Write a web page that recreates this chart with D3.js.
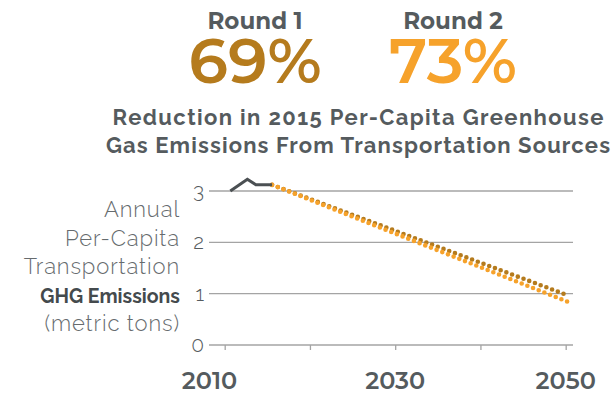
<!DOCTYPE html>
<html>
<head>
<meta charset="utf-8">
<script src="https://cdn.jsdelivr.net/npm/d3@7"></script>
<style>
  html, body { margin: 0; padding: 0; background: #fff; }
  svg { display: block; }
</style>
</head>
<body>
<svg id="chart" width="611" height="395"></svg>
<script>
// Observed per-capita transportation GHG emissions (metric tons)
const histYears = [2010.6, 2012.6, 2013.6, 2015.5];
const histValues = [3.0, 3.23, 3.12, 3.12];

// Reduction targets by round, applied to the 2015 level
const rounds = ["Round 1", "Round 2"];
const reductions = [0.69, 0.73];
const roundColors = ["#b57b1d", "#f6a22b"];
const projStartYear = 2015.5;
const projEndYear = 2050.2;

const yTicks = [0, 1, 2, 3];
const xTicks = [2010, 2020, 2030, 2040, 2050];
const xLabels = [2010, 2030, 2050];
const titleLines = ["Reduction in 2015 Per-Capita Greenhouse", "Gas Emissions From Transportation Sources"];
const titleWidths = [491, 504];
const yLabelLines = ["Annual", "Per-Capita", "Transportation", "GHG Emissions", "(metric tons)"];

const svg = d3.select("#chart");
const grey = "#555b5e";
const lightFont = "Raleway, Lato, 'Open Sans', sans-serif";
const headFont = "Montserrat, 'Open Sans', Lato, sans-serif";

const x = d3.scaleLinear().domain([2008.1, 2050.8]).range([209, 573]);
const y = d3.scaleLinear().domain([0, 3]).range([345, 191]);

// Headline: round names with their reduction percentages
const heads = svg.append("g").selectAll("g")
  .data(rounds.map((r, i) => ({ name: r, pct: reductions[i], color: roundColors[i] })))
  .join("g")
  .attr("transform", (d, i) => `translate(${[255, 453][i]},0)`);
heads.append("text")
  .attr("y", 29).attr("text-anchor", "middle")
  .attr("font-family", headFont).attr("font-weight", 700).attr("font-size", 23)
  .attr("fill", grey).text(d => d.name);
heads.append("text")
  .attr("y", 83).attr("text-anchor", "middle")
  .attr("font-family", headFont).attr("font-weight", 600).attr("font-size", 63)
  .attr("fill", d => d.color).text(d => d3.format(".0%")(d.pct));

// Chart title, spread to its set width
svg.append("g").selectAll("text").data(titleLines).join("text")
  .attr("x", 358).attr("y", (d, i) => 125 + i * 28)
  .attr("text-anchor", "middle")
  .attr("font-family", lightFont).attr("font-weight", 700).attr("font-size", 22)
  .attr("textLength", (d, i) => titleWidths[i]).attr("lengthAdjust", "spacing")
  .attr("fill", grey).text(d => d);

// Horizontal gridlines
svg.append("g").selectAll("line").data(yTicks).join("line")
  .attr("x1", x.range()[0]).attr("x2", x.range()[1])
  .attr("y1", d => y(d)).attr("y2", d => y(d))
  .attr("stroke", "#a4a4a4").attr("stroke-width", 1.3);

// Y tick labels
svg.append("g").selectAll("text").data(yTicks).join("text")
  .attr("x", 204).attr("y", d => y(d) + 7)
  .attr("text-anchor", "end")
  .attr("font-family", lightFont).attr("font-weight", 300).attr("font-size", 21)
  .attr("fill", grey).text(d => d);

// X ticks hang below the baseline
svg.append("g").selectAll("line").data(xTicks).join("line")
  .attr("x1", d => x(d)).attr("x2", d => x(d))
  .attr("y1", y(0)).attr("y2", y(0) + 5)
  .attr("stroke", "#a4a4a4").attr("stroke-width", 1.3);

// X labels (the first sits at the axis start)
svg.append("g").selectAll("text").data(xLabels).join("text")
  .attr("x", (d, i) => i === 0 ? x.range()[0] + 0.5 : x(d) - 0.5)
  .attr("y", 389)
  .attr("text-anchor", "middle")
  .attr("font-family", headFont).attr("font-weight", 600).attr("font-size", 24)
  .attr("fill", grey).text(d => d);

// Y axis description
svg.append("g").selectAll("text").data(yLabelLines).join("text")
  .attr("x", 180).attr("y", (d, i) => 217 + i * 28.5)
  .attr("text-anchor", "end")
  .attr("font-family", lightFont)
  .attr("font-weight", (d, i) => i === 3 ? 700 : 300)
  .attr("font-size", (d, i) => i === 3 ? 19.5 : 22)
  .attr("letter-spacing", (d, i) => i === 3 ? 0 : 0.9)
  .attr("fill", (d, i) => i === 3 ? "#444a4d" : "#666b6e")
  .text(d => d);

// Projected paths, dotted, Round 2 drawn on top
const startVal = histValues[histValues.length - 1];
const line = d3.line().x(d => x(d[0])).y(d => y(d[1]));
svg.append("g").selectAll("path")
  .data(reductions.map((r, i) => ({ pts: [[projStartYear, startVal], [projEndYear, startVal * (1 - r)]], color: roundColors[i] })))
  .join("path")
  .attr("d", d => line(d.pts))
  .attr("fill", "none").attr("stroke", d => d.color)
  .attr("stroke-width", 4.6).attr("stroke-linecap", "round")
  .attr("stroke-dasharray", "0 6.1");

// Historical line
svg.append("path")
  .attr("d", line(histYears.map((yr, i) => [yr, histValues[i]])))
  .attr("fill", "none").attr("stroke", "#4b5053")
  .attr("stroke-width", 3).attr("stroke-linejoin", "miter");
</script>
</body>
</html>
